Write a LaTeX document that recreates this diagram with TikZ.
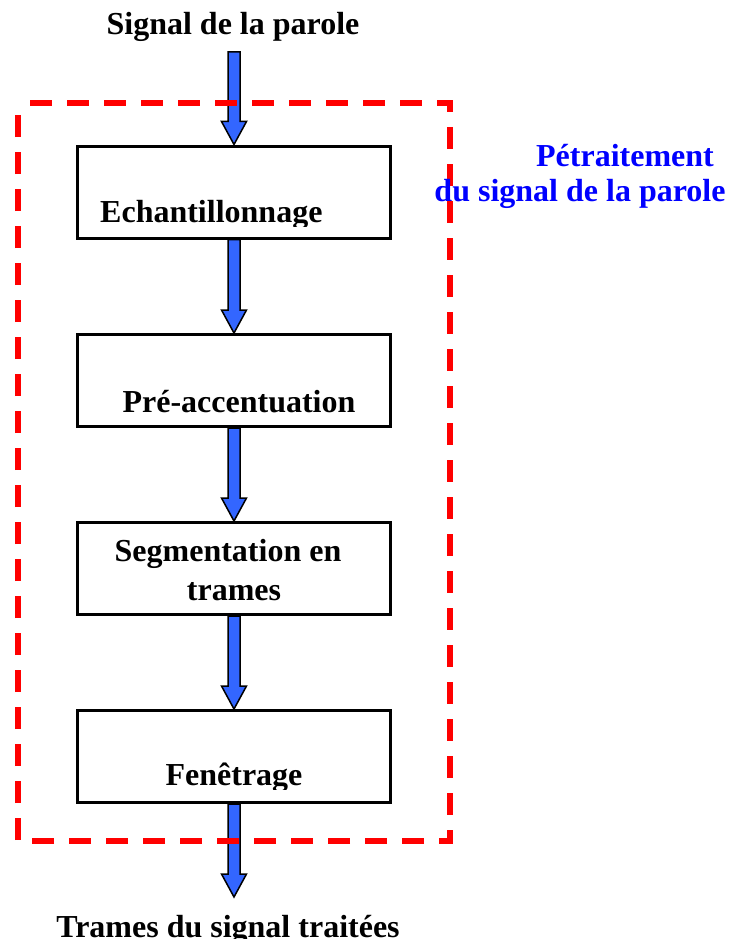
\documentclass[tikz,border=0pt]{standalone}
\usepackage{fontspec}
\setmainfont{Liberation Serif}
\usetikzlibrary{calc}

\definecolor{arrowblue}{RGB}{51,102,255}
\definecolor{framered}{RGB}{255,0,0}
\definecolor{titleblue}{RGB}{0,0,255}

\tikzset{
  stagebox/.style={draw=black, line width=3pt, fill=white,
    minimum width=313pt, minimum height=92pt, inner sep=0pt},
  lbl/.style={inner sep=0pt, font=\bfseries\fontsize{32}{38}\selectfont, text=black},
  bluelbl/.style={lbl, text=titleblue},
  blockarrow/.style={draw=black, line width=1.5pt, fill=arrowblue, line join=miter},
  frame/.style={draw=framered, line width=6pt, dash pattern=on 22pt off 15pt,
    dash phase=25pt, line join=miter}
}

% hollow block arrow from node #1 down to node #2
\newcommand{\blockarrow}[2]{%
  \path[blockarrow] let \p1=(#1), \p2=(#2) in
    (\x1-6pt,\y1) -- (\x1-6pt,\y2+23pt) -- (\x1-12.5pt,\y2+23pt) -- (\x2,\y2)
    -- (\x1+12.5pt,\y2+23pt) -- (\x1+6pt,\y2+23pt) -- (\x1+6pt,\y1) -- cycle;}

\begin{document}
\begin{tikzpicture}[x=1pt, y=-1pt]
  \useasboundingbox (0,0) rectangle (730,939);

  % input / output texts
  \node[lbl, anchor=base] (in) at (233,35) {Signal de la parole};
  \node[lbl, anchor=base] (outtxt) at (228,937) {Trames du signal traitées};
  \coordinate (src) at (234,52);
  \coordinate (dst) at (234,897);

  % processing stages
  \node[stagebox] (b1) at (234,192)   {};
  \node[stagebox] (b2) at (234,380.5) {};
  \node[stagebox] (b3) at (234,568.5) {};
  \node[stagebox] (b4) at (234,756.5) {};

  \begin{scope}
    \clip (90,185) rectangle (360,226);
    \node[lbl, anchor=base west] (t1) at (100,222) {Echantillonnage};
  \end{scope}
  \node[lbl, anchor=base] (t2) at (239,412) {Pré-accentuation};
  \node[lbl, anchor=base] (t3a) at (228,561) {Segmentation en};
  \node[lbl, anchor=base] (t3b) at (234,600) {trames};
  \begin{scope}
    \clip (150,750) rectangle (320,789);
    \node[lbl, anchor=base] (t4) at (234,785) {Fenêtrage};
  \end{scope}

  % flow arrows
  \blockarrow{src}{b1.north}
  \blockarrow{b1.south}{b2.north}
  \blockarrow{b2.south}{b3.north}
  \blockarrow{b3.south}{b4.north}
  \blockarrow{b4.south}{dst}

  % dashed frame around the pre-processing chain
  \coordinate (f1) at (18,103);
  \coordinate (f2) at (450,103);
  \coordinate (f3) at (450,841);
  \coordinate (f4) at (18,841);
  \draw[frame] (f1) -- (f2) -- (f3) -- (f4) -- cycle;

  % frame title
  \node[bluelbl, anchor=base] (g1) at (625,166) {Pétraitement};
  \node[bluelbl, anchor=base] (g2) at (580,201) {du signal de la parole};
\end{tikzpicture}
\end{document}
